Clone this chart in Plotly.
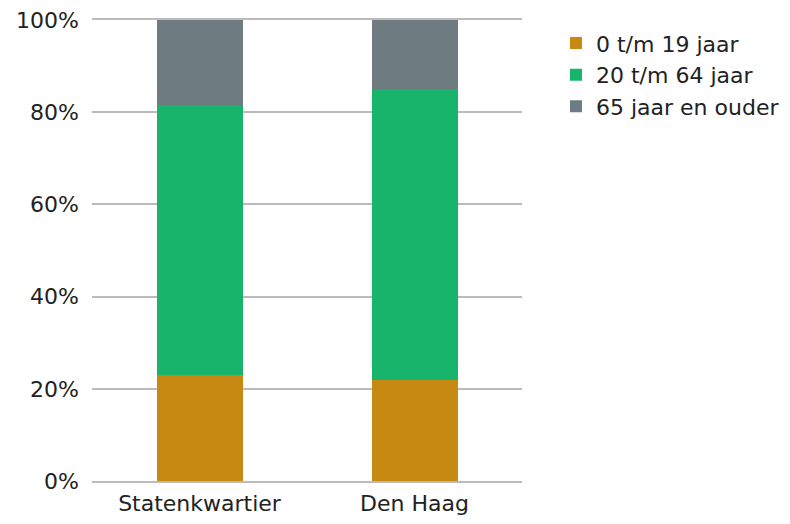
import plotly.graph_objects as go

# Leeftijdsopbouw (aandeel in %)
gebieden = ["Statenkwartier", "Den Haag"]
jong = [23.1, 21.9]      # 0 t/m 19 jaar
midden = [58.5, 63.1]    # 20 t/m 64 jaar
oud = [18.4, 15.0]       # 65 jaar en ouder
y_ticks = [0, 20, 40, 60, 80, 100]
y_labels = ["0%", "20%", "40%", "60%", "80%", "100%"]

reeksen = [
    ("0 t/m 19 jaar", jong, "#C68A12"),
    ("20 t/m 64 jaar", midden, "#18B46C"),
    ("65 jaar en ouder", oud, "#6E7B80"),
]

fig = go.Figure()
for naam, waarden, kleur in reeksen:
    fig.add_trace(go.Bar(x=gebieden, y=waarden, name=naam,
                         marker_color=kleur, marker_line_width=0,
                         width=0.4))

# page body adds 8px margin on each side, so figure is 774x508
fig.update_layout(
    barmode="stack",
    width=774, height=508,
    margin=dict(l=84, r=260, t=12, b=35, autoexpand=False),
    plot_bgcolor="white", paper_bgcolor="white",
    font=dict(family="DejaVu Sans", size=22, color="#222222"),
    legend=dict(traceorder="normal", x=1.079, xanchor="left",
                y=0.995, yanchor="top", font=dict(size=22),
                bgcolor="rgba(0,0,0,0)", tracegroupgap=0),
    bargap=0.6,
)
fig.update_yaxes(range=[0, 100], tickmode="array", tickvals=y_ticks,
                 ticktext=y_labels, showgrid=True, gridcolor="#BBBBBB",
                 gridwidth=2, zeroline=False, showline=False,
                 ticklabelstandoff=12, ticklabeloverflow="allow",
                 automargin=False)
fig.update_xaxes(showline=True, mirror=True, linecolor="#BBBBBB",
                 linewidth=2, showgrid=False, ticks="",
                 ticklabelstandoff=2, ticklabeloverflow="allow",
                 automargin=False)

fig.write_html("out.html")
